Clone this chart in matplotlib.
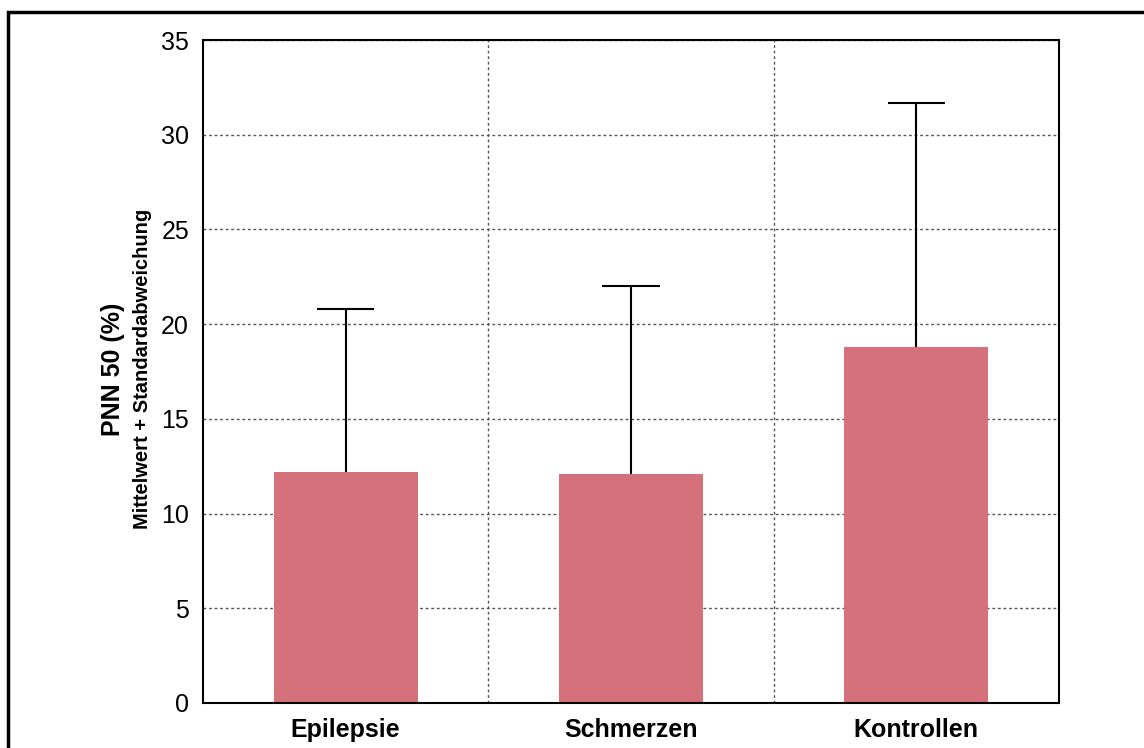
import matplotlib
matplotlib.use("Agg")
import matplotlib.pyplot as plt
from matplotlib.patches import Rectangle

# Group means and standard deviations of PNN50 (%)
groups = ["Epilepsie", "Schmerzen", "Kontrollen"]
means = [12.2, 12.1, 18.8]
sds = [8.6, 9.9, 12.9]
yticks = [0, 5, 10, 15, 20, 25, 30, 35]

plt.rcParams["font.family"] = ["Liberation Sans", "DejaVu Sans"]

W, H = 1144, 748
fig = plt.figure(figsize=(W / 100, H / 100), dpi=100)
ax = fig.add_axes([203 / W, 1 - 703 / H, (1059 - 203) / W, (703 - 40) / H])

x = list(range(len(groups)))
bar_color = "#d5717a"
ax.bar(x, means, width=0.505, color=bar_color, zorder=2)

# Upper-only whiskers (mean + SD) with a cap
tops = [m + s for m, s in zip(means, sds)]
cap = 0.1
ax.vlines(x, means, tops, colors="black", linewidth=1.5, zorder=3)
ax.hlines(tops, [i - cap for i in x], [i + cap for i in x], colors="black",
          linewidth=1.5, zorder=3)

ax.set_xlim(-0.5, len(groups) - 0.5)
ax.set_ylim(0, 35)
ax.set_yticks(yticks)
ax.set_yticklabels([str(t) for t in yticks], fontsize=18)
ax.set_xticks(x)
ax.set_xticklabels(groups, fontsize=18, fontweight="bold")
ax.tick_params(axis="x", length=0, pad=11)
ax.tick_params(axis="y", length=0, pad=10)

# Dotted grid: horizontal at each tick, vertical between categories
ax.set_xticks([i + 0.5 for i in range(len(groups) - 1)], minor=True)
ax.grid(axis="y", which="major", linestyle=(0, (2, 2)), color="#555555", linewidth=1, zorder=0)
ax.grid(axis="x", which="minor", linestyle=(0, (2, 2)), color="#555555", linewidth=1, zorder=0)
ax.tick_params(axis="x", which="minor", length=0)
ax.set_axisbelow(True)

for s in ax.spines.values():
    s.set_linewidth(1.5)
    s.set_color("black")

# Two-line y-axis title
cy = 1 - 369 / H
fig.text(113 / W, cy, "PNN 50 (%)", rotation=90, ha="center", va="center",
         fontsize=18, fontweight="bold")
fig.text(142 / W, cy, "Mittelwert + Standardabweichung", rotation=90, ha="center",
         va="center", fontsize=14.5, fontweight="bold")

# Outer frame
fig.patches.append(Rectangle((8 / W, -0.05), 1.1, 1 - 12 / H + 0.05,
                             transform=fig.transFigure, fill=False,
                             edgecolor="black", linewidth=2.5))

fig.savefig("out.png", dpi=100)
